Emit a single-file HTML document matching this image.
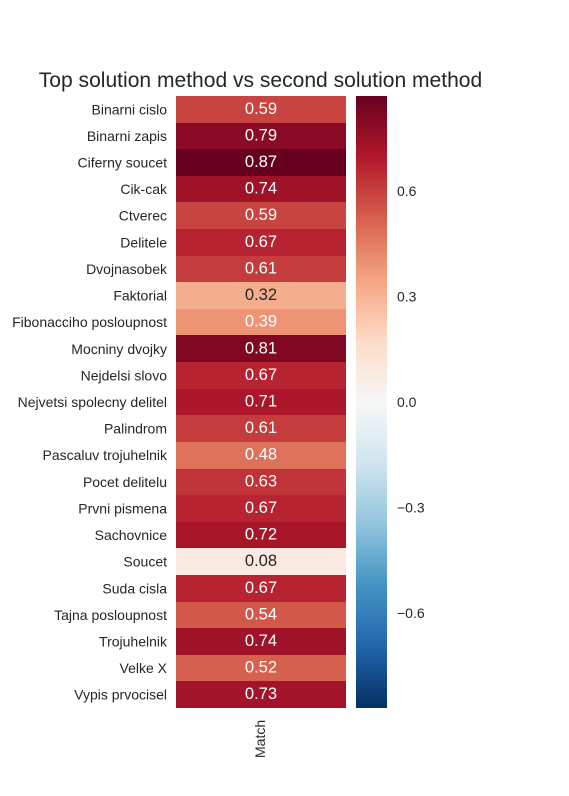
<!DOCTYPE html>
<html lang="en">
<head>
<meta charset="utf-8">
<title>Top solution method vs second solution method</title>
<style>
html,body{margin:0;padding:0;background:#fff;width:569px;height:796px;overflow:hidden}
svg{display:block;font-family:"Liberation Sans",Arial,sans-serif}
</style>
</head>
<body>
<svg id="chart" xmlns="http://www.w3.org/2000/svg" width="569" height="796" viewBox="0 0 569 796">
<text x="260.5" y="87" text-anchor="middle" font-size="21.05" fill="#262626">Top solution method vs second solution method</text>
<text transform="translate(265,758) rotate(-90)" font-size="14" fill="#262626">Match</text>
<defs>
<linearGradient id="cbar-gradient" x1="0" y1="1" x2="0" y2="0"></linearGradient>
</defs>
</svg>
<script>
const categories = ["Binarni cislo","Binarni zapis","Ciferny soucet","Cik-cak","Ctverec","Delitele","Dvojnasobek","Faktorial","Fibonacciho posloupnost","Mocniny dvojky","Nejdelsi slovo","Nejvetsi spolecny delitel","Palindrom","Pascaluv trojuhelnik","Pocet delitelu","Prvni pismena","Sachovnice","Soucet","Suda cisla","Tajna posloupnost","Trojuhelnik","Velke X","Vypis prvocisel"];
const matchValues = [0.59,0.79,0.87,0.74,0.59,0.67,0.61,0.32,0.39,0.81,0.67,0.71,0.61,0.48,0.63,0.67,0.72,0.08,0.67,0.54,0.74,0.52,0.73];
const colorbarTicks = [0.6,0.3,0,-0.3,-0.6];
const colorbarTickLabels = ["0.6","0.3","0.0","\u22120.3","\u22120.6"];

const NS = "http://www.w3.org/2000/svg";
const svg = document.getElementById("chart");
const plot = {left:176,right:346,top:96,bottom:708};
const cbar = {left:356,right:387};
const vmax = Math.max.apply(null, matchValues.map(Math.abs));
const vmin = -vmax;
const ramp = ["#053061","#2166ac","#4393c3","#92c5de","#d1e5f0","#f7f7f7","#fddbc7","#f4a582","#d6604d","#b2182b","#67001f"];

function rowY(i){ return plot.top + i * (plot.bottom - plot.top) / categories.length; }
function valueY(v){ return plot.bottom - (v - vmin) / (vmax - vmin) * (plot.bottom - plot.top); }
function hexRgb(h){ return [1,3,5].map(function(p){ return parseInt(h.substr(p,2),16); }); }
function colorOf(v){
  var t = Math.min(1, Math.max(0, (v - vmin) / (vmax - vmin))) * (ramp.length - 1);
  var k = Math.min(ramp.length - 2, Math.floor(t));
  var a = hexRgb(ramp[k]), b = hexRgb(ramp[k + 1]), f = t - k;
  return a.map(function(c, n){ return c + (b[n] - c) * f; });
}
function relativeLuminance(c){
  var l = c.map(function(x){
    var s = x / 255;
    return s <= 0.03928 ? s / 12.92 : Math.pow((s + 0.055) / 1.055, 2.4);
  });
  return 0.2126 * l[0] + 0.7152 * l[1] + 0.0722 * l[2];
}
function css(c){ return "rgb(" + c.map(Math.round).join(",") + ")"; }
function make(tag, attrs){
  var el = document.createElementNS(NS, tag);
  Object.keys(attrs).forEach(function(k){ el.setAttribute(k, attrs[k]); });
  return el;
}

var gradient = document.getElementById("cbar-gradient");
ramp.forEach(function(c, i){
  gradient.appendChild(make("stop", {offset: i / (ramp.length - 1), "stop-color": c}));
});

categories.forEach(function(name, i){
  var y0 = Math.round(rowY(i)), y1 = Math.round(rowY(i + 1));
  var mid = (rowY(i) + rowY(i + 1)) / 2;
  var color = colorOf(matchValues[i]);

  var cell = make("rect", {x: plot.left, y: y0, width: plot.right - plot.left, height: y1 - y0, fill: css(color), "shape-rendering": "crispEdges"});
  
  
  svg.appendChild(cell);

  var annot = make("text", {x: (plot.left + plot.right) / 2, y: mid + 4.5, "text-anchor": "middle", "font-size": 16.6, fill: relativeLuminance(color) < 0.408 ? "#ffffff" : "#262626"});
  annot.textContent = matchValues[i].toFixed(2);
  
  
  svg.appendChild(annot);

  var label = make("text", {x: 167, y: mid + 5, "text-anchor": "end", "font-size": 14, fill: "#262626"});
  label.textContent = name;
  
  
  svg.appendChild(label);
});

var bar = make("rect", {x: cbar.left, y: plot.top, width: cbar.right - cbar.left, height: plot.bottom - plot.top, fill: "url(#cbar-gradient)"});


svg.appendChild(bar);

colorbarTicks.forEach(function(v, i){
  var tick = make("text", {x: 397, y: valueY(v) + 5, "font-size": 14, fill: "#262626"});
  tick.textContent = colorbarTickLabels[i];
  
  
  svg.appendChild(tick);
});
</script>
</body>
</html>
